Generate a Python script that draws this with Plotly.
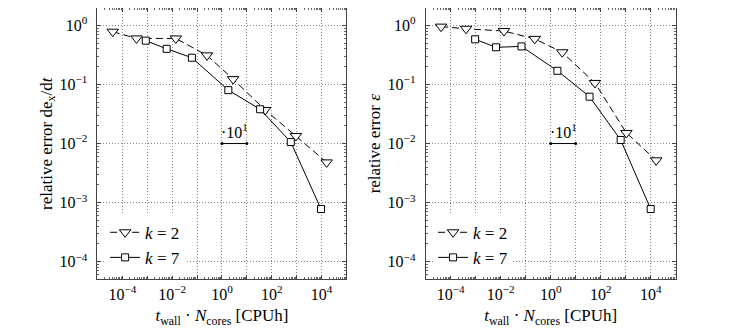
import plotly.graph_objects as go

# ------------------------
# Data
# ------------------------

# left panel: relative error of de_x/dt
left_k2_cost = [4.1e-5, 3.7e-4, 1.4e-2, 0.25, 2.8, 54, 930, 1.6e4]
left_k2_err = [0.78, 0.60, 0.60, 0.31, 0.123, 0.037, 0.0134, 0.0048]
left_k7_cost = [8.7e-4, 6.0e-3, 6.2e-2, 1.8, 34, 580, 9.5e3]
left_k7_err = [0.55, 0.40, 0.283, 0.080, 0.038, 0.0106, 7.8e-4]

# right panel: relative error of epsilon
right_k2_cost = [4.1e-5, 4.1e-4, 1.35e-2, 0.23, 2.9, 59, 1.07e3, 1.66e4]
right_k2_err = [0.95, 0.875, 0.80, 0.59, 0.35, 0.106, 0.0151, 0.0052]
right_k7_cost = [9.5e-4, 6.5e-3, 6.8e-2, 1.86, 36, 630, 1.0e4]
right_k7_err = [0.58, 0.425, 0.44, 0.17, 0.062, 0.0115, 7.8e-4]

# slope indicator (one decade)
slope_x = [1, 10]
slope_y = [1e-2, 1e-2]

x_tickvals = [10.0 ** e for e in range(-5, 6)]
x_ticktext = ["" if e % 2 else "10<sup>%s</sup>" % str(e).replace("-", "\u2212") for e in range(-5, 6)]
y_tickvals = [10.0 ** e for e in range(-4, 1)]
y_ticktext = ["10<sup>%s</sup>" % str(e).replace("-", "\u2212") for e in range(-4, 1)]

minor_x = [m * 10.0 ** e for e in range(-5, 5) for m in range(2, 10)]
minor_y = [m * 10.0 ** e for e in range(-5, 1) for m in range(2, 10)]

FONT = "Liberation Serif"

fig = go.Figure()

panels = [
    ("x", "y", "legend", left_k2_cost, left_k2_err, left_k7_cost, left_k7_err),
    ("x2", "y2", "legend2", right_k2_cost, right_k2_err, right_k7_cost, right_k7_err),
]

for xa, ya, leg, k2x, k2y, k7x, k7y in panels:
    fig.add_trace(go.Scatter(
        x=k2x, y=k2y, xaxis=xa, yaxis=ya, legend=leg,
        mode="lines+markers", name="<i>k</i> = 2",
        line=dict(color="black", width=1, dash="7px,4px"),
        marker=dict(symbol="triangle-down", size=10, color="white",
                    line=dict(color="black", width=1)),
    ))
    fig.add_trace(go.Scatter(
        x=k7x, y=k7y, xaxis=xa, yaxis=ya, legend=leg,
        mode="lines+markers", name="<i>k</i> = 7",
        line=dict(color="black", width=1),
        marker=dict(symbol="square", size=7, color="white",
                    line=dict(color="black", width=1)),
    ))
    fig.add_trace(go.Scatter(
        x=slope_x, y=slope_y, xaxis=xa, yaxis=ya, showlegend=False,
        mode="lines+markers", line=dict(color="black", width=1),
        marker=dict(size=3, color="black"),
    ))
    fig.add_annotation(
        x=0.5, y=-2, xref=xa, yref=ya, text="\u00b710<sup>1</sup>",
        showarrow=False, yanchor="bottom", yshift=1,
        font=dict(family=FONT, size=16, color="black"),
    )

xaxis_style = dict(
    type="log", range=[-5, 5],
    tickvals=x_tickvals, ticktext=x_ticktext,
    ticks="inside", ticklen=4, tickcolor="#444",
    minor=dict(tickvals=minor_x, ticks="inside", ticklen=2, tickcolor="#666"),
    showgrid=True, gridcolor="#8a8a8a", griddash="1px,2px", gridwidth=1,
    showline=True, linecolor="#444", linewidth=1, mirror="allticks",
    zeroline=False, automargin=False,
    tickfont=dict(family=FONT, size=16, color="black"),
    title=dict(text="<i>t</i><sub>wall</sub> \u00b7 <i>N</i><sub>cores</sub> [CPUh]",
               font=dict(family=FONT, size=17, color="black"), standoff=7),
)
yaxis_style = dict(
    type="log", range=[-4.3, 0.293],
    tickvals=y_tickvals, ticktext=y_ticktext,
    ticks="inside", ticklen=4, tickcolor="#444",
    minor=dict(tickvals=minor_y, ticks="inside", ticklen=2, tickcolor="#666"),
    showgrid=True, gridcolor="#8a8a8a", griddash="1px,2px", gridwidth=1,
    showline=True, linecolor="#444", linewidth=1, mirror="allticks",
    zeroline=False, automargin=False, ticklabelstandoff=6,
    tickfont=dict(family=FONT, size=16, color="black"),
)

legend_style = dict(
    bgcolor="white", borderwidth=0, xanchor="left", yanchor="bottom",
    font=dict(family=FONT, size=17, color="black"),
    itemwidth=30, tracegroupgap=0,
)

# the page body adds an 8px offset, so domains are shifted to compensate
fig.update_layout(
    width=747, height=333,
    margin=dict(l=0, r=0, t=0, b=0),
    paper_bgcolor="white", plot_bgcolor="white",
    font=dict(family=FONT, color="black"),
    xaxis=dict(domain=[0.1198, 0.4531], anchor="y", **xaxis_style),
    yaxis=dict(domain=[0.1847, 1.0], anchor="x",
               title=dict(text="relative error de<sub>x</sub>/d<i>t</i>",
                          font=dict(family=FONT, size=17, color="black"),
                          standoff=2),
               **yaxis_style),
    xaxis2=dict(domain=[0.5592, 0.8938], anchor="y2", **xaxis_style),
    yaxis2=dict(domain=[0.1847, 1.0], anchor="x2",
                title=dict(text="relative error <i>\u03b5</i>",
                           font=dict(family=FONT, size=17, color="black"),
                           standoff=2),
                **yaxis_style),
    legend=dict(x=0.130, y=0.196, **legend_style),
    legend2=dict(x=0.569, y=0.196, **legend_style),
    showlegend=True,
)

fig.write_html("out.html")
